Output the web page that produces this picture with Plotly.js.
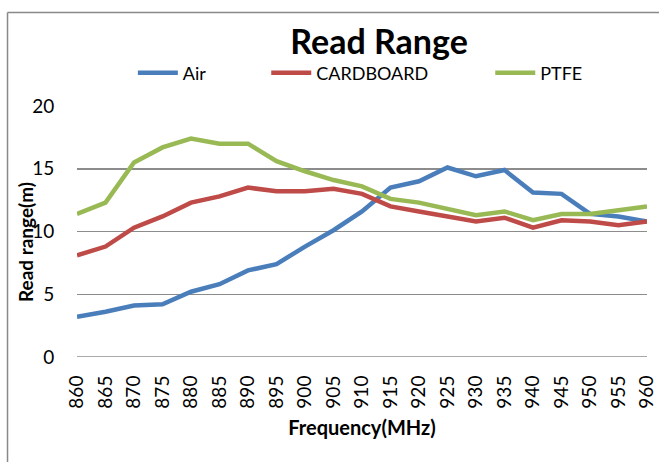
<!DOCTYPE html>
<html>
<head>
<meta charset="utf-8">
<script src="https://cdn.plot.ly/plotly-3.0.1.min.js"></script>
<style>
html,body{margin:0;padding:0;background:#fff;}
#chart{width:659px;height:462px;}
</style>
</head>
<body>
<div id="chart"></div>
<script>
const frequencies = ['860','865','870','875','880','885','890','895','900','905','910','915','920','925','930','935','940','945','950','955','960'];
const airValues = [3.2,3.6,4.1,4.2,5.2,5.8,6.9,7.4,8.8,10.1,11.6,13.5,14.0,15.1,14.4,14.9,13.1,13.0,11.4,11.2,10.8];
const cardboardValues = [8.1,8.8,10.3,11.2,12.3,12.8,13.5,13.2,13.2,13.4,13.0,12.0,11.6,11.2,10.8,11.1,10.3,10.9,10.8,10.5,10.8];
const ptfeValues = [11.4,12.3,15.5,16.7,17.4,17.0,17.0,15.6,14.8,14.1,13.6,12.6,12.3,11.8,11.3,11.6,10.9,11.4,11.4,11.7,12.0];
const seriesNames = ['Air','CARDBOARD','PTFE'];
const yTicks = [0,5,10,15,20];

const FONT = 'Lato, "DejaVu Sans", sans-serif';
const colors = ['#4A7EBB','#BE4B48','#98B954'];
const allValues = [airValues, cardboardValues, ptfeValues];
const legendIds = ['legend','legend2','legend3'];

const traces = allValues.map((vals,i)=>({
  type:'scatter', mode:'lines', x:frequencies, y:vals, name:seriesNames[i],
  line:{color:colors[i], width:4.5}, legend:legendIds[i], showlegend:true
}));

const legendBase = {orientation:'h', yanchor:'middle', xanchor:'left', y:1.131,
  font:{family:FONT, size:18, color:'#000'}, bgcolor:'rgba(0,0,0,0)', itemwidth:40, borderwidth:0};

const layout = {
  width:659, height:462,
  showlegend:true,
  margin:{l:77, r:12, t:106, b:105},
  paper_bgcolor:'#fff', plot_bgcolor:'#fff',
  font:{family:FONT, color:'#000'},
  title:{text:'<b>Read Range</b>', font:{family:FONT, size:34, color:'#000'},
    x:0.53, xref:'paper', xanchor:'center', y:1-42/462, yref:'container', yanchor:'middle'},
  legend:Object.assign({}, legendBase, {x:0.098}),
  legend2:Object.assign({}, legendBase, {x:0.332}),
  legend3:Object.assign({}, legendBase, {x:0.725}),
  xaxis:{type:'category', tickangle:-90, showgrid:false, zeroline:false, showline:false,
    ticks:'outside', ticklen:10, tickcolor:'rgba(0,0,0,0)',
    tickfont:{family:FONT, size:19, color:'#000'},
    title:{text:'<b>Frequency(MHz)</b>', font:{family:FONT, size:20, color:'#000'}, standoff:13}},
  yaxis:{range:[0,20], tickvals:yTicks, showgrid:true, gridcolor:'#8c8c8c', gridwidth:1.5,
    zeroline:false, showline:false, ticks:'outside', ticklen:18, tickcolor:'rgba(0,0,0,0)',
    tickfont:{family:FONT, size:19, color:'#000'}},
  annotations:[
    {text:'<b>Read range(m)</b>', xref:'paper', yref:'paper', x:-0.0912, y:0.458,
     xanchor:'center', yanchor:'middle', textangle:-90, showarrow:false,
     font:{family:FONT, size:19, color:'#000'}}
  ],
  shapes:[
    {type:'line', xref:'paper', yref:'paper', x0:-0.1219, x1:-0.1219, y0:-1, y1:1.3725, line:{color:'#898989', width:1.5}},
    {type:'line', xref:'paper', yref:'paper', x0:-0.1219, x1:1.2, y0:1.3725, y1:1.3725, line:{color:'#898989', width:1.5}},
    {type:'line', xref:'paper', yref:'y', x0:0, x1:1, y0:0, y1:0, line:{color:'#8c8c8c', width:1.5}}
  ]
};

Plotly.newPlot('chart', traces, layout, {displayModeBar:false, staticPlot:true});
</script>
</body>
</html>
